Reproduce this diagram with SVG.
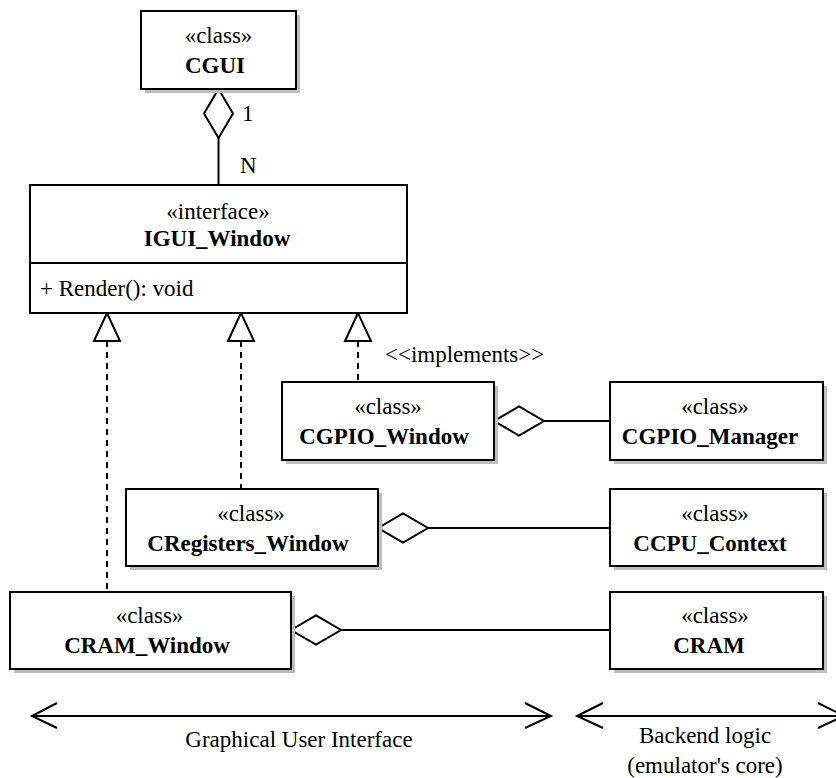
<svg xmlns="http://www.w3.org/2000/svg" width="836" height="778" viewBox="0 0 836 778">
<style>
.box{fill:#fff;stroke:#000;stroke-width:2}
.sh{fill:#bdbdbd;stroke:none}
.t{font-family:"Liberation Serif","Times New Roman",Times,serif;font-size:23px;fill:#000}
.b{font-weight:bold}
.m{text-anchor:middle}
.ln{stroke:#000;stroke-width:2;fill:none}
.dash{stroke:#000;stroke-width:2;fill:none;stroke-dasharray:6,5}
.tri{fill:#fff;stroke:#000;stroke-width:2}
.dia{fill:#fff;stroke:#000;stroke-width:2}
</style>
<rect width="836" height="778" fill="#fff"/>
<g id="connectors">
  <line class="ln" x1="218.5" y1="138" x2="218.5" y2="185"/>
  <polygon class="dia" points="218.5,89 233,113.5 218.5,138 204,113.5"/>
  <text class="t" x="242" y="121">1</text>
  <text class="t" x="240" y="173">N</text>
  <line class="dash" x1="107" y1="341" x2="107" y2="592"/>
  <polygon class="tri" points="107,313 94,341 120,341"/>
  <line class="dash" x1="241" y1="341" x2="241" y2="489"/>
  <polygon class="tri" points="241,313 228,341 254,341"/>
  <line class="dash" x1="358" y1="341" x2="358" y2="382"/>
  <polygon class="tri" points="358,313 345,341 371,341"/>
  <text class="t" x="385" y="362">&lt;&lt;implements&gt;&gt;</text>
  <line class="ln" x1="544" y1="421" x2="610" y2="421"/>
  <polygon class="dia" points="494,421 519,406.5 544,421 519,435.5"/>
  <line class="ln" x1="428" y1="528" x2="610" y2="528"/>
  <polygon class="dia" points="378,528 403,513.5 428,528 403,542.5"/>
  <line class="ln" x1="341" y1="630" x2="610" y2="630"/>
  <polygon class="dia" points="291,630 316,615.5 341,630 316,644.5"/>
  <line class="ln" x1="32" y1="716" x2="551" y2="716"/>
  <polyline class="ln" points="57,703 32,716 57,728"/>
  <polyline class="ln" points="525,703 551,716 525,728"/>
  <line class="ln" x1="577" y1="716" x2="844" y2="716"/>
  <polyline class="ln" points="603,703 577,716 603,728"/>
  <polyline class="ln" points="818,703 844,716 818,728"/>
  <text class="t m" x="299" y="747">Graphical User Interface</text>
  <text class="t m" x="705" y="743">Backend logic</text>
  <text class="t m" x="705" y="773">(emulator's core)</text>
</g>
<g id="CGUI">
  <rect class="sh" x="145" y="15" width="155" height="78"/>
  <rect class="box" x="141" y="11" width="155" height="78"/>
  <text class="t m" x="218.5" y="43">«class»</text>
  <text class="t m b" x="215" y="73">CGUI</text>
</g>
<g id="IGUI_Window">
  <rect class="box" x="30" y="185" width="377" height="128"/>
  <line class="ln" x1="30" y1="263" x2="407" y2="263"/>
  <text class="t m" x="218" y="219">«interface»</text>
  <text class="t m b" x="217" y="246">IGUI_Window</text>
  <text class="t" x="40" y="296">+ Render(): void</text>
</g>
<g id="CGPIO_Window">
  <rect class="sh" x="286" y="386" width="212" height="78"/>
  <rect class="box" x="282" y="382" width="212" height="78"/>
  <text class="t m" x="388" y="414">«class»</text>
  <text class="t m b" x="384" y="444">CGPIO_Window</text>
</g>
<g id="CGPIO_Manager">
  <rect class="sh" x="614" y="386" width="213" height="78"/>
  <rect class="box" x="610" y="382" width="213" height="78"/>
  <text class="t m" x="715" y="414">«class»</text>
  <text class="t m b" x="710" y="444">CGPIO_Manager</text>
</g>
<g id="CRegisters_Window">
  <rect class="sh" x="130" y="493" width="252" height="77"/>
  <rect class="box" x="126" y="489" width="252" height="77"/>
  <text class="t m" x="251" y="521">«class»</text>
  <text class="t m b" x="248" y="551">CRegisters_Window</text>
</g>
<g id="CCPU_Context">
  <rect class="sh" x="614" y="493" width="213" height="77"/>
  <rect class="box" x="610" y="489" width="213" height="77"/>
  <text class="t m" x="715" y="521">«class»</text>
  <text class="t m b" x="710" y="551">CCPU_Context</text>
</g>
<g id="CRAM_Window">
  <rect class="sh" x="14" y="596" width="281" height="77"/>
  <rect class="box" x="10" y="592" width="281" height="77"/>
  <text class="t m" x="149.5" y="623">«class»</text>
  <text class="t m b" x="147" y="653">CRAM_Window</text>
</g>
<g id="CRAM">
  <rect class="sh" x="614" y="596" width="213" height="77"/>
  <rect class="box" x="610" y="592" width="213" height="77"/>
  <text class="t m" x="715" y="623">«class»</text>
  <text class="t m b" x="709" y="653">CRAM</text>
</g>
</svg>
